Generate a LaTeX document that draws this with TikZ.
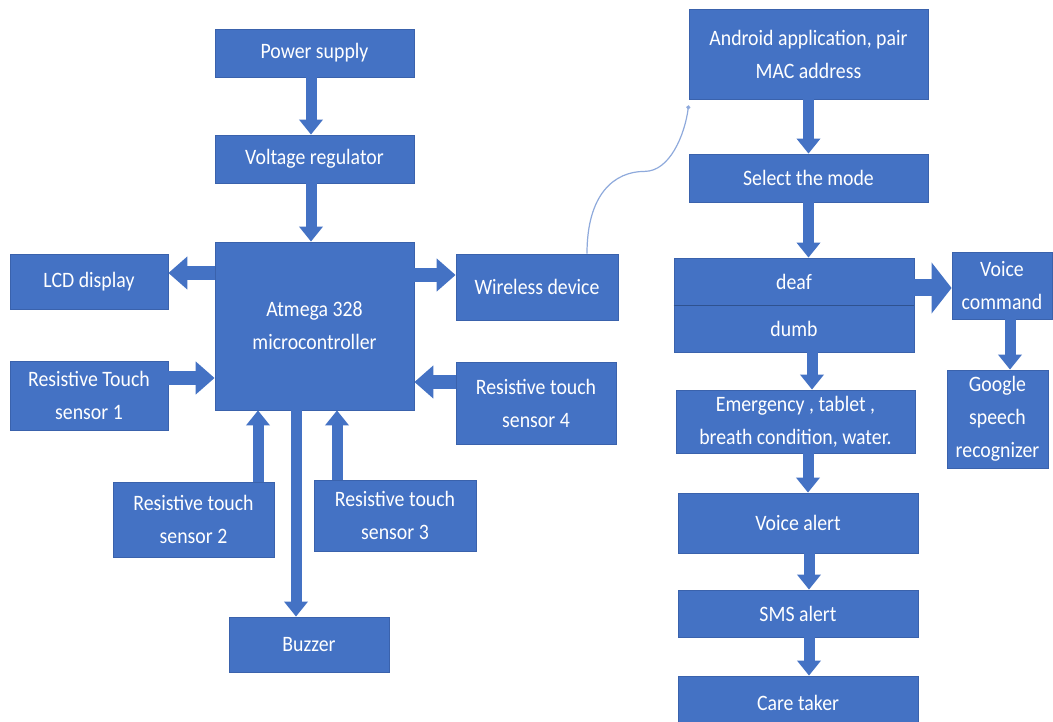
\documentclass[tikz,border=0pt]{standalone}
\usepackage{fontspec}
\setmainfont{Carlito}[FakeStretch=0.9]
\usetikzlibrary{arrows.meta,calc}
\definecolor{boxblue}{HTML}{4472C4}
\definecolor{edgeblue}{HTML}{3A62AC}
\definecolor{darkline}{HTML}{2F528F}
\definecolor{curveblue}{HTML}{8FAADC}
\tikzset{
  blk/.style={draw=edgeblue, line width=0.8pt, fill=boxblue, text=white, align=center,
    inner sep=0pt, font=\fontsize{22}{33}\selectfont},
  barrow/.style={draw=boxblue, line width=11pt, -{Triangle[width=23pt,length=15pt]}},
  harrow/.style={draw=boxblue, line width=14pt, -{Triangle[width=32pt,length=19pt]}},
  bigarrow/.style={draw=boxblue, line width=17pt, -{Triangle[width=50pt,length=20pt]}},
  link/.style={draw=curveblue, line width=1.2pt, -{Circle[length=4pt]}}
}
\newcommand{\blkbox}[5]{\node[blk, minimum width=#3pt, minimum height=#4pt] (#1) at (#2) {#5};}
\begin{document}
\begin{tikzpicture}[x=1pt,y=-1pt]
\path[use as bounding box, fill=white] (0,0) rectangle (1053,722);
\begin{scope}
\clip (0,0) rectangle (1053,722);
% left system
\blkbox{ps}{314.5,53}{199}{48}{Power supply}
\blkbox{vr}{314.5,159}{199}{48}{Voltage regulator}
\blkbox{mc}{314.5,326}{199}{168}{Atmega 328\\microcontroller}
\blkbox{lcd}{89,281.5}{158}{55}{LCD display}
\blkbox{sa}{89,395.5}{158}{69}{Resistive Touch\\sensor 1}
\blkbox{wd}{537,287}{162}{66}{Wireless device}
\blkbox{sd}{536,403}{160}{82}{Resistive touch\\sensor 4}
\blkbox{sb}{193.5,519.5}{161}{75}{Resistive touch\\sensor 2}
\blkbox{sc}{395,515.5}{162}{71}{Resistive touch\\sensor 3}
\blkbox{bz}{309,644.5}{160}{55}{Buzzer}
% right flow
\blkbox{and}{808.5,54}{239}{90}{Android application, pair\\MAC address}
\blkbox{sel}{808.5,178}{239}{48}{Select the mode}
\blkbox{deaf}{794,281.5}{240}{47}{deaf}
\blkbox{dumb}{794,328.5}{240}{47}{dumb}
\blkbox{vc}{1002,285.5}{100}{67}{Voice\\command}
\blkbox{gs}{997.5,419}{101}{98}{Google\\speech\\recognizer}
\blkbox{em}{795.5,421.5}{239}{63}{Emergency , tablet ,\\breath condition, water.}
\blkbox{va}{798,523}{240}{60}{Voice alert}
\blkbox{sms}{798,613.5}{240}{47}{SMS alert}
\blkbox{ct}{798,703}{240}{54}{Care taker}
\draw[darkline, line width=1.5pt] (deaf.south west) -- (deaf.south east);
% left arrows
\draw[barrow] ([xshift=-3.5]ps.south) -- ([xshift=-3.5]vr.north);
\draw[barrow] ([xshift=-3.5]vr.south) -- ([xshift=-3.5]mc.north);
\draw[harrow] ([yshift=8.5]lcd.east -| mc.west) -- ([yshift=8.5]lcd.east);
\draw[harrow] ([yshift=12]wd.west -| mc.east) -- ([yshift=12]wd.west);
\draw[harrow] ([yshift=17.5]sa.east) -- ([yshift=17.5]sa.east -| mc.west);
\draw[harrow] ([yshift=21]sd.west) -- ([yshift=21]sd.west -| mc.east);
\draw[barrow] ([xshift=64.5]sb.north) -- ([xshift=64.5]sb.north |- mc.south);
\draw[barrow] ([xshift=-58]sc.north) -- ([xshift=-58]sc.north |- mc.south);
\draw[barrow] ([xshift=-13]bz.north |- mc.south) -- ([xshift=-13]bz.north);
% right arrows
\draw[barrow] (and.south) -- (sel.north);
\draw[barrow] (sel.south) -- (sel.south |- deaf.north);
\draw[barrow] ([xshift=18]dumb.south) -- ([xshift=18]dumb.south |- em.north);
\draw[barrow] ([xshift=12.5]em.south) -- ([xshift=12.5]em.south |- va.north);
\draw[barrow] ([xshift=11]va.south) -- ([xshift=11]sms.north);
\draw[barrow] ([xshift=11]sms.south) -- ([xshift=11]ct.north);
\draw[bigarrow] ([yshift=-6.5]deaf.east) -- ([yshift=-6.5]deaf.east -| vc.west);
\draw[barrow] ([xshift=8]vc.south) -- ([xshift=8]vc.south |- gs.north);
% wireless link
\coordinate (ws) at ([xshift=50]wd.north);
\coordinate (ae) at ([yshift=-6]and.south west);
\draw[link] (ws) .. controls ++(0,-60) and ++(-30,0) .. ([xshift=-44,yshift=-66]ae) .. controls ++(25,0) and ++(-4,30) .. (ae);
\end{scope}
\end{tikzpicture}
\end{document}
